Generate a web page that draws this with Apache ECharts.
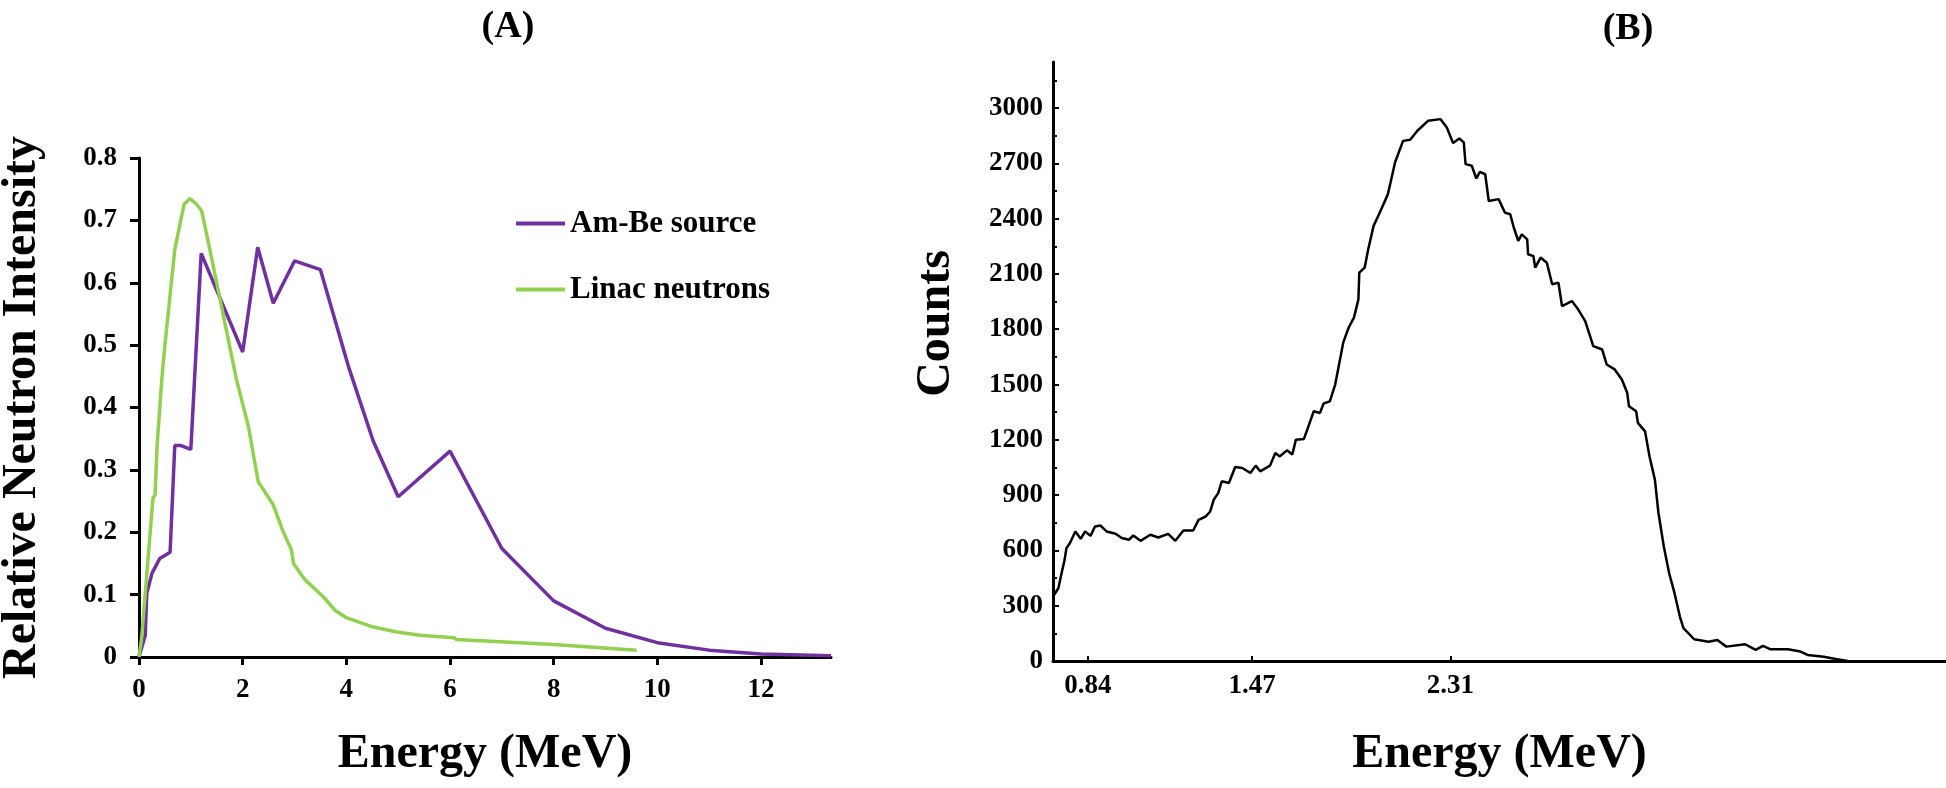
<!DOCTYPE html>
<html><head><meta charset="utf-8">
<script src="https://cdn.jsdelivr.net/npm/echarts@6/dist/echarts.min.js"></script>
<style>html,body{margin:0;padding:0;background:#fff}#c{width:1946px;height:788px}</style>
</head><body><div id="c"></div>
<script>
// ---------- Panel A data ----------
const amBeEnergy    = [0, 0.12, 0.15, 0.25, 0.4, 0.6, 0.69, 0.81, 1.0, 1.2, 2.0, 2.29, 2.59, 3.0, 3.5, 4.04, 4.52, 5.0, 6.0, 7.0, 8.0, 9.0, 10.0, 11.0, 12.0, 13.35];
const amBeIntensity = [0, 0.035, 0.102, 0.134, 0.158, 0.168, 0.339, 0.339, 0.333, 0.647, 0.489, 0.657, 0.567, 0.635, 0.621, 0.466, 0.346, 0.257, 0.330, 0.174, 0.090, 0.046, 0.023, 0.011, 0.005, 0.002];
const linacEnergy    = [0, 0.05, 0.27, 0.31, 0.35, 0.44, 0.5, 0.69, 0.87, 0.98, 1.1, 1.21, 1.34, 1.88, 2.11, 2.3, 2.59, 2.78, 2.94, 2.98, 3.2, 3.55, 3.78, 4.0, 4.52, 4.97, 5.42, 6.08, 6.12, 8.0, 9.6];
const linacIntensity = [0, 0.03, 0.255, 0.26, 0.34, 0.445, 0.5, 0.653, 0.726, 0.735, 0.727, 0.715, 0.664, 0.445, 0.37, 0.281, 0.244, 0.201, 0.172, 0.15, 0.124, 0.097, 0.075, 0.063, 0.048, 0.040, 0.035, 0.031, 0.028, 0.020, 0.011];
const aXTicks = [0, 2, 4, 6, 8, 10, 12];
const aSeriesNames = ['Am-Be source', 'Linac neutrons'];

// ---------- Panel B data ----------
const spectrumChannel = [0,6,10,13,15,19,25,31,36,42,47,53,60,70,77,85,90,98,109,118,129,137,146,157,163,171,176,180,185,189,197,204,212,221,227,232,243,249,254,262,268,272,281,286,292,299,303,310,316,325,331,337,342,343,349,353,359,366,375,378,383,392,400,408,420,434,441,448,455,460,462,469,474,478,484,488,499,506,512,516,521,525,531,532,538,540,546,553,559,566,570,581,588,596,605,615,620,629,637,643,645,653,655,663,668,674,678,684,690,696,702,706,718,734,744,754,775,787,795,803,823,837,845,863,878,890];
const spectrumCounts  = [350,395,485,549,612,640,703,663,703,679,730,735,703,690,667,658,681,652,685,670,690,652,708,708,766,784,811,875,911,975,966,1053,1047,1020,1060,1029,1060,1129,1110,1143,1120,1201,1205,1273,1355,1346,1397,1409,1500,1727,1808,1863,1962,2107,2134,2234,2361,2433,2533,2596,2705,2822,2828,2877,2931,2940,2895,2810,2835,2814,2696,2687,2618,2654,2641,2496,2506,2433,2424,2352,2279,2315,2288,2207,2197,2134,2189,2161,2044,2053,1926,1953,1908,1844,1708,1690,1609,1582,1527,1455,1382,1355,1292,1246,1110,984,803,621,476,368,241,178,118,105,114,78,91,60,82,64,64,51,33,23,9,0];
const bXTickChannels = [39, 223, 445];
const bXTickLabels   = ['0.84', '1.47', '2.31'];
const bYTicks      = [0, 300, 600, 900, 1200, 1500, 1800, 2100, 2400, 2700, 3000];
const bYMinorTicks = [150, 450, 750, 1050, 1350, 1650, 1950, 2250, 2550, 2850, 3150];

// ---------- styles ----------
const FF = '"Liberation Serif", "Times New Roman", serif';
const tickFont = {fontFamily: FF, fontWeight: 'bold', fontSize: 27, color: '#000'};
const nameFont = {fontFamily: FF, fontWeight: 'bold', fontSize: 48, color: '#000'};
const zip = (xs, ys) => xs.map((x, i) => [x, ys[i]]);

const chart = echarts.init(document.getElementById('c'), null, {renderer: 'canvas'});
chart.setOption({
  animation: false,
  backgroundColor: '#fff',
  graphic: [
    {type: 'text', x: 508, y: 27, style: {text: '(A)', fontFamily: FF, fontWeight: 'bold', fontSize: 38, fill: '#000', textAlign: 'center', textVerticalAlign: 'middle'}},
    {type: 'text', x: 1628, y: 29, style: {text: '(B)', fontFamily: FF, fontWeight: 'bold', fontSize: 38, fill: '#000', textAlign: 'center', textVerticalAlign: 'middle'}}
  ],
  legend: {
    orient: 'vertical', left: 511, top: 203, itemWidth: 49, itemHeight: 4, itemGap: 35, icon: 'rect',
    textStyle: {fontFamily: FF, fontWeight: 'bold', fontSize: 31, color: '#000', lineHeight: 31},
    data: aSeriesNames
  },
  grid: [
    {left: 139, top: 158, width: 692, height: 499, containLabel: false, outerBoundsMode: 'none'},
    {left: 1053, top: 62, width: 893, height: 599, containLabel: false, outerBoundsMode: 'none'}
  ],
  xAxis: [
    {gridIndex: 0, type: 'value', min: 0, max: 13.35,
     name: 'Energy (MeV)', nameLocation: 'middle', nameGap: 74, nameTextStyle: nameFont, nameMoveOverlap: false,
     axisLine: {lineStyle: {color: '#000', width: 3}},
     axisTick: {show: true, length: 8, lineStyle: {color: '#000', width: 3}, customValues: aXTicks},
     axisLabel: {...tickFont, margin: 20, customValues: aXTicks},
     splitLine: {show: false}},
    {gridIndex: 1, type: 'value', min: 0, max: 1000,
     name: 'Energy (MeV)', nameLocation: 'middle', nameGap: 70, nameTextStyle: nameFont, nameMoveOverlap: false,
     axisLine: {lineStyle: {color: '#000', width: 3}},
     axisTick: {show: true, inside: true, length: 5, lineStyle: {color: '#000', width: 2}, customValues: bXTickChannels},
     axisLabel: {...tickFont, margin: 12, customValues: bXTickChannels,
       formatter: v => bXTickLabels[bXTickChannels.indexOf(v)] || ''},
     splitLine: {show: false}}
  ],
  yAxis: [
    {gridIndex: 0, type: 'value', min: 0, max: 0.8, interval: 0.1, position: 'left',
     name: 'Relative Neutron Intensity', nameLocation: 'middle', nameGap: 92, nameTextStyle: nameFont, nameMoveOverlap: false,
     axisLine: {show: true, lineStyle: {color: '#000', width: 3}},
     axisTick: {show: true, length: 9, lineStyle: {color: '#000', width: 3}},
     axisLabel: {...tickFont, margin: 22},
     splitLine: {show: false}},
    {gridIndex: 1, type: 'value', min: 0, max: 3250, position: 'left', offset: 0,
     name: 'Counts', nameLocation: 'middle', nameGap: 92, nameMoveOverlap: false,
     nameTextStyle: {...nameFont, padding: [0, 0, 0, 76]},
     axisLine: {show: true, lineStyle: {color: '#000', width: 3}},
     axisTick: {show: true, inside: true, length: 6, lineStyle: {color: '#000', width: 2}, customValues: bYTicks},
     axisLabel: {...tickFont, margin: 10, customValues: bYTicks, formatter: v => String(v)},
     splitLine: {show: false}},
    {gridIndex: 1, type: 'value', min: 0, max: 3250, position: 'left', offset: 0,
     axisLine: {show: false},
     axisTick: {show: true, inside: true, length: 4, lineStyle: {color: '#000', width: 2}, customValues: bYMinorTicks},
     axisLabel: {show: false},
     splitLine: {show: false}}
  ],
  series: [
    {name: aSeriesNames[0], type: 'line', xAxisIndex: 0, yAxisIndex: 0, data: zip(amBeEnergy, amBeIntensity),
     showSymbol: false, symbol: 'none', color: '#7030A0', lineStyle: {color: '#7030A0', width: 3.5}},
    {name: aSeriesNames[1], type: 'line', xAxisIndex: 0, yAxisIndex: 0, data: zip(linacEnergy, linacIntensity),
     showSymbol: false, symbol: 'none', color: '#92D050', lineStyle: {color: '#92D050', width: 3.5}},
    {name: 'Spectrum', type: 'line', xAxisIndex: 1, yAxisIndex: 1, data: zip(spectrumChannel, spectrumCounts),
     showSymbol: false, symbol: 'none', color: '#000', lineStyle: {color: '#000', width: 2.5}}
  ]
});
</script></body></html>
